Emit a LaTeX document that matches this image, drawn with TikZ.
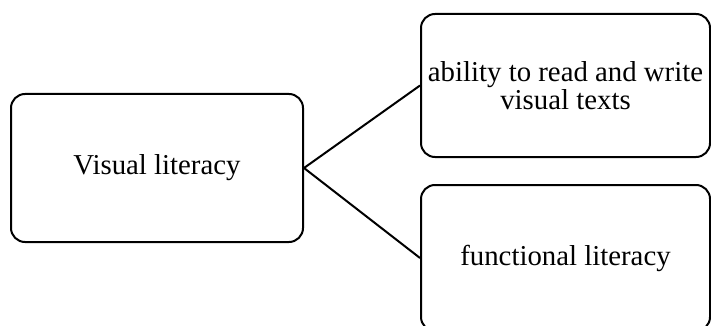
\documentclass[tikz,border=0pt]{standalone}
\usepackage{fontspec}
\setmainfont{Liberation Serif}
\usetikzlibrary{positioning}
\tikzstyle{topic} = [rectangle, rounded corners=7pt,
  draw=black, line width=1pt, fill=white,
  font=\fontsize{14.4}{14}\selectfont, align=center,
  inner sep=2pt]
\tikzstyle{link} = [draw=black, line width=1pt]
\begin{document}
\begin{tikzpicture}[x=0.5pt, y=-0.5pt, node distance=13pt]

  \useasboundingbox (0,0) rectangle (711,326);

  \node[topic, minimum width=146pt, minimum height=74pt] (visual) at (157,168)
    {Visual literacy};

  \node[topic, minimum width=144.5pt, minimum height=71.5pt] (ability) at (565.5,85.5)
    {ability to read and write\\visual texts};

  \node[topic, minimum width=144.5pt, minimum height=73pt, below=of ability] (functional)
    {functional literacy};

  % Connectors
  \draw[link] (visual.east) -- (ability.west);
  \draw[link] (visual.east) -- (functional.west);

\end{tikzpicture}
\end{document}
